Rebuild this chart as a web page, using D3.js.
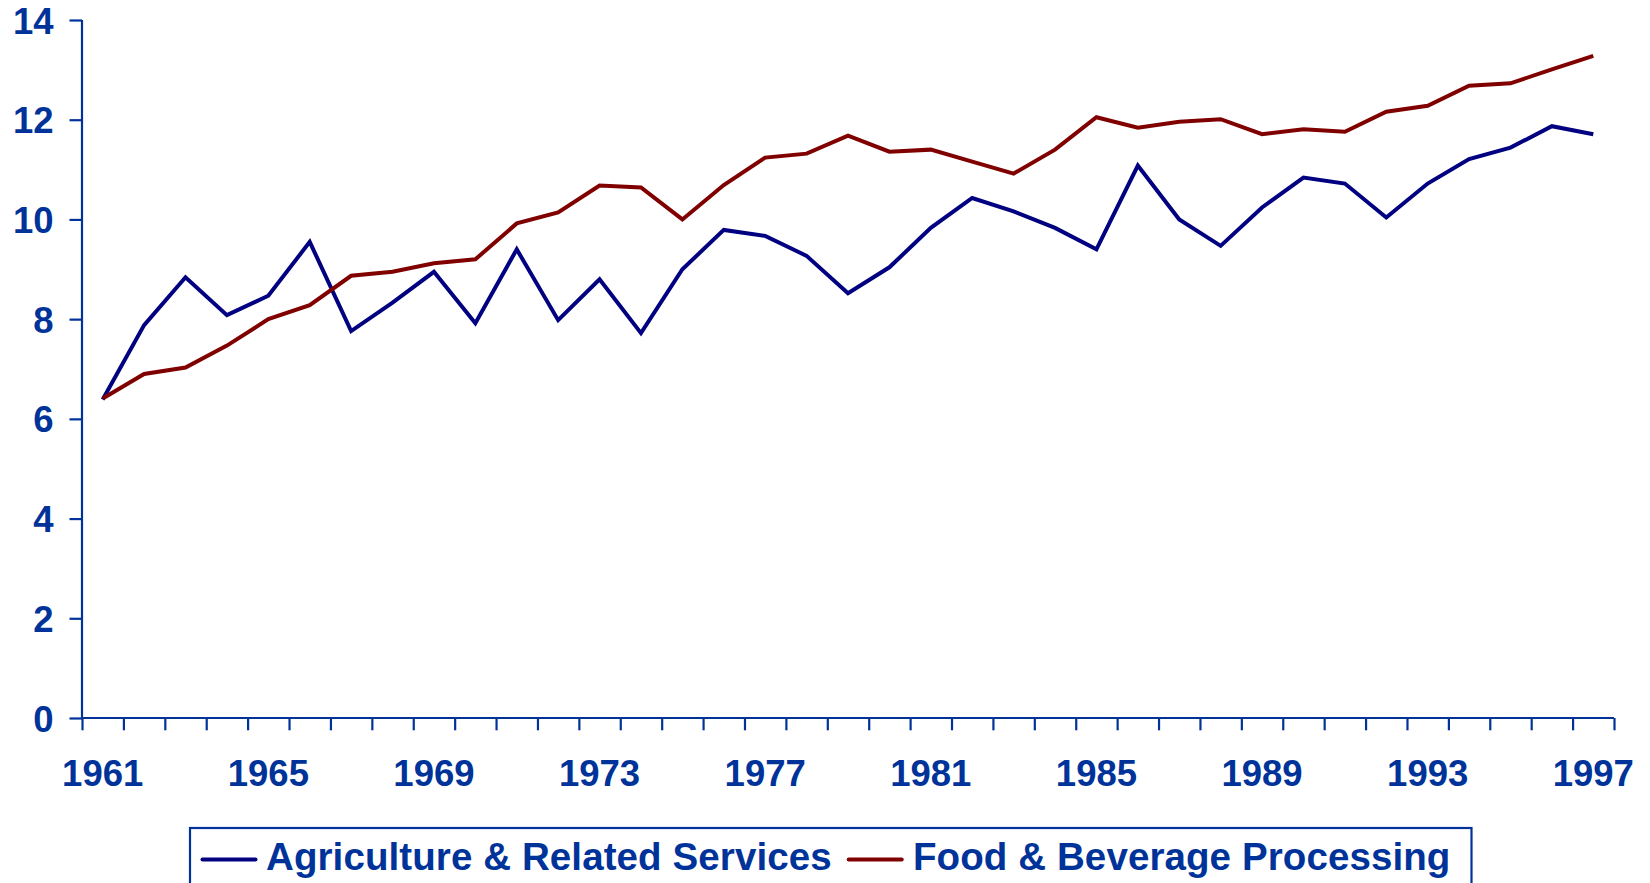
<!DOCTYPE html>
<html>
<head>
<meta charset="utf-8">
<script src="https://cdn.jsdelivr.net/npm/d3@7"></script>
<style>
  html, body { margin: 0; padding: 0; background: #fff; }
  svg { display: block; }
  text { font-family: "Liberation Sans", Arial, sans-serif; font-weight: bold; }
</style>
</head>
<body>
<svg id="chart" width="1650" height="883"></svg>
<script>
// ---- data ----
const years = d3.range(1961, 1998).map(String);
const agriculture = [6.39, 7.88, 8.84, 8.08, 8.47, 9.55, 7.76, 8.33, 8.95, 7.92,
  9.40, 7.98, 8.80, 7.72, 9.00, 9.79, 9.67, 9.27, 8.52, 9.04,
  9.83, 10.43, 10.16, 9.83, 9.40, 11.08, 10.00, 9.47, 10.24, 10.84,
  10.72, 10.04, 10.72, 11.21, 11.44, 11.87, 11.71];
const foodBeverage = [6.41, 6.90, 7.03, 7.47, 8.00, 8.28, 8.87, 8.95, 9.12, 9.20,
  9.92, 10.14, 10.68, 10.64, 10.00, 10.69, 11.24, 11.32, 11.68, 11.36,
  11.40, 11.16, 10.92, 11.40, 12.05, 11.84, 11.96, 12.01, 11.71, 11.81,
  11.76, 12.16, 12.28, 12.68, 12.73, 13.01, 13.28];
const seriesNames = ["Agriculture & Related Services", "Food & Beverage Processing"];
const yTicks = [0, 2, 4, 6, 8, 10, 12, 14];
const xTickLabels = ["1961", "1965", "1969", "1973", "1977", "1981", "1985", "1989", "1993", "1997"];

(function () {
// ---- style ----
const axisColor = "#003399";
const seriesColors = ["#000080", "#800000"];
const axisFont = 36.5;
const legendFont = 38.5;

const svg = d3.select("#chart");
const pl = 82, pr = 1614, pt = 20, pb = 718;

const x = d3.scaleBand().domain(years).range([pl, pr]).padding(0);
const xEdge = d3.scaleLinear().domain([0, years.length]).range([pl, pr]);
const y = d3.scaleLinear().domain([0, 14]).range([pb, pt]);

// y axis
const yAxis = svg.append("g")
  .attr("transform", `translate(${pl},0)`)
  .call(d3.axisLeft(y).tickValues(yTicks).tickSize(12.5).tickPadding(16).tickFormat(d3.format("d")));
yAxis.select(".domain").attr("stroke", axisColor).attr("stroke-width", 2.2).attr("d", `M0,${pt}V${pb}`);
yAxis.selectAll(".tick line").attr("stroke", axisColor).attr("stroke-width", 2.2);
yAxis.selectAll(".tick text").attr("fill", axisColor).style("font-size", axisFont + "px")
  .style("font-weight", "bold").style("font-family", "'Liberation Sans', Arial, sans-serif").attr("dy", "0.36em");

// x axis: boundary ticks
const xAxis = svg.append("g")
  .attr("transform", `translate(0,${pb})`)
  .call(d3.axisBottom(xEdge).tickValues(d3.range(years.length + 1)).tickSize(12.3).tickFormat(""));
xAxis.select(".domain").attr("stroke", axisColor).attr("stroke-width", 2.2).attr("d", `M${pl},0H${pr}`);
xAxis.selectAll(".tick line").attr("stroke", axisColor).attr("stroke-width", 2.2);

// x labels at category centres
const xLab = svg.append("g")
  .attr("transform", `translate(0,${pb})`)
  .call(d3.axisBottom(x).tickValues(xTickLabels).tickSize(0).tickPadding(42));
xLab.select(".domain").remove();
xLab.selectAll(".tick text").attr("fill", axisColor).style("font-size", axisFont + "px")
  .style("font-weight", "bold").style("font-family", "'Liberation Sans', Arial, sans-serif");

// lines
const line = d3.line()
  .x((d, i) => x(years[i]) + x.bandwidth() / 2)
  .y(d => y(d));

[agriculture, foodBeverage].forEach((s, k) => {
  svg.append("path")
    .datum(s)
    .attr("fill", "none")
    .attr("stroke", seriesColors[k])
    .attr("stroke-width", 4)
    .attr("stroke-linejoin", "miter")
    .attr("d", line);
});

// legend
const legend = svg.append("g");
legend.append("rect")
  .attr("x", 190).attr("y", 828).attr("width", 1281.5).attr("height", 70)
  .attr("fill", "#fff").attr("stroke", axisColor).attr("stroke-width", 2.2);
const legendItems = [
  { name: seriesNames[0], color: seriesColors[0], x0: 202.5, tx: 266 },
  { name: seriesNames[1], color: seriesColors[1], x0: 848.7, tx: 913 }
];
legendItems.forEach(it => {
  legend.append("line")
    .attr("x1", it.x0).attr("x2", it.x0 + 53).attr("y1", 859.5).attr("y2", 859.5)
    .attr("stroke", it.color).attr("stroke-width", 4).attr("stroke-linecap", "round");
  legend.append("text")
    .attr("x", it.tx).attr("y", 870)
    .attr("fill", axisColor).style("font-size", legendFont + "px")
    .style("letter-spacing", "0.1px")
    .text(it.name);
});
})();
</script>
</body>
</html>
